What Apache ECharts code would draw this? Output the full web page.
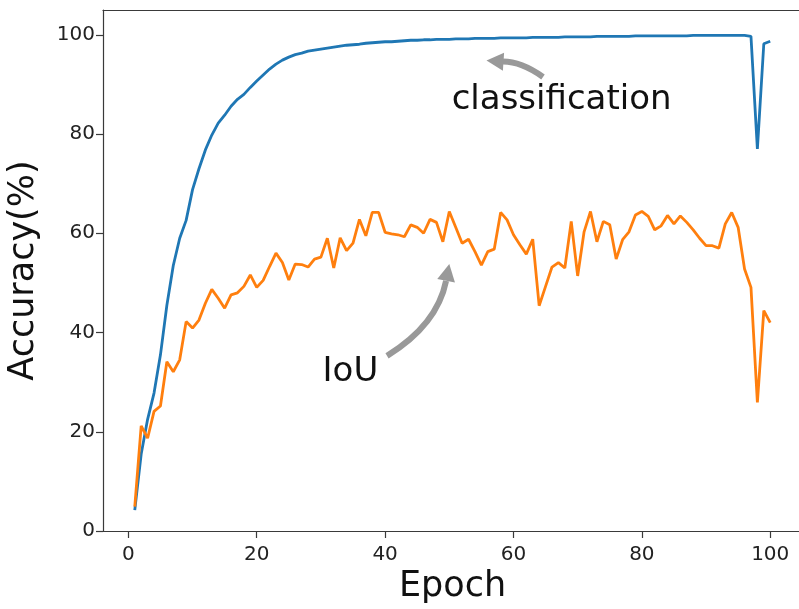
<!DOCTYPE html>
<html lang="en">
<head>
    <meta charset="UTF-8">
    <title>Accuracy vs Epoch</title>
    <script src="https://cdn.jsdelivr.net/npm/echarts@6/dist/echarts.min.js"></script>
    <style>
        html, body {margin: 0; padding: 0; background: #fff;}
    </style>
</head>
<body>
<div id="main" style="width:799px;height:609px;"></div>
<script>
    // epochs 1..100
    var epochs = [1, 2, 3, 4, 5, 6, 7, 8, 9, 10, 11, 12, 13, 14, 15, 16, 17, 18, 19, 20,
        21, 22, 23, 24, 25, 26, 27, 28, 29, 30, 31, 32, 33, 34, 35, 36, 37, 38, 39, 40,
        41, 42, 43, 44, 45, 46, 47, 48, 49, 50, 51, 52, 53, 54, 55, 56, 57, 58, 59, 60,
        61, 62, 63, 64, 65, 66, 67, 68, 69, 70, 71, 72, 73, 74, 75, 76, 77, 78, 79, 80,
        81, 82, 83, 84, 85, 86, 87, 88, 89, 90, 91, 92, 93, 94, 95, 96, 97, 98, 99, 100];

    // classification accuracy (blue)
    var classAcc = [4.2, 15.5, 22.5, 27.8, 35.5, 45.5, 53.5, 59.0, 62.6, 68.8,
        73.0, 76.8, 79.8, 82.2, 83.8, 85.6, 87.0, 88.0, 89.4, 90.7,
        91.9, 93.1, 94.1, 94.9, 95.5, 96.0, 96.3, 96.7, 96.9, 97.1,
        97.3, 97.5, 97.7, 97.9, 98.0, 98.1, 98.3, 98.4, 98.5, 98.6,
        98.6, 98.7, 98.8, 98.9, 98.9, 99.0, 99.0, 99.1, 99.1, 99.1,
        99.2, 99.2, 99.2, 99.3, 99.3, 99.3, 99.3, 99.4, 99.4, 99.4,
        99.4, 99.4, 99.5, 99.5, 99.5, 99.5, 99.5, 99.6, 99.6, 99.6,
        99.6, 99.6, 99.7, 99.7, 99.7, 99.7, 99.7, 99.7, 99.8, 99.8,
        99.8, 99.8, 99.8, 99.8, 99.8, 99.8, 99.8, 99.9, 99.9, 99.9,
        99.9, 99.9, 99.9, 99.9, 99.9, 99.9, 99.7, 77.0, 98.2, 98.7];

    // IoU accuracy (orange)
    var iouAcc = [4.9, 21.2, 18.7, 24.1, 25.2, 34.1, 32.1, 34.5, 42.2, 40.9,
        42.5, 45.9, 48.7, 46.9, 44.9, 47.6, 48.0, 49.3, 51.6, 49.1,
        50.5, 53.3, 56.0, 54.1, 50.6, 53.8, 53.7, 53.2, 54.8, 55.2,
        59.0, 53.0, 59.1, 56.5, 58.0, 62.8, 59.5, 64.2, 64.2, 60.2,
        59.9, 59.7, 59.3, 61.7, 61.2, 60.0, 62.8, 62.2, 58.3, 64.4,
        61.2, 58.0, 58.8, 56.3, 53.6, 56.3, 56.8, 64.2, 62.7, 59.7,
        57.7, 55.8, 58.8, 45.4, 49.3, 53.2, 54.1, 53.0, 62.4, 51.4,
        60.3, 64.4, 58.3, 62.4, 61.7, 54.8, 58.7, 60.3, 63.7, 64.4,
        63.4, 60.7, 61.5, 63.6, 61.9, 63.5, 62.2, 60.7, 59.0, 57.5,
        57.5, 57.0, 61.9, 64.2, 61.2, 52.8, 49.1, 25.9, 44.4, 42.0];

    var xTicks = [0, 20, 40, 60, 80, 100];
    var yTicks = [0, 20, 40, 60, 80, 100];

    var FONT = 'DejaVu Sans';
    var SPINE = {show: true, onZero: false, lineStyle: {color: '#3a3a3a', width: 1.2}};

    function pairs(xs, ys) {
        var out = [];
        for (var i = 0; i < xs.length; i++) out.push([xs[i], ys[i]]);
        return out;
    }

    var myChart = echarts.init(document.getElementById('main'), null, {renderer: 'canvas'});

    myChart.setOption({
        animation: false,
        backgroundColor: '#fff',
        grid: {
            left: 103, top: 10, width: 699, height: 521,
            outerBoundsMode: 'none',
            containLabel: false
        },
        xAxis: [
            {
                type: 'value',
                position: 'bottom',
                min: -3.95,
                max: 104.95,
                name: 'Epoch',
                nameLocation: 'middle',
                nameGap: 38,
                nameTextStyle: {fontFamily: FONT, fontSize: 35, color: '#111'},
                axisLine: SPINE,
                axisTick: {show: true, length: 7, lineStyle: {color: '#3a3a3a', width: 1.2}, customValues: xTicks},
                axisLabel: {fontFamily: FONT, fontSize: 20, color: '#222', margin: 14, customValues: xTicks},
                splitLine: {show: false}
            },
            {
                // top spine only
                type: 'value',
                position: 'top',
                min: -3.95,
                max: 104.95,
                axisLine: SPINE,
                axisTick: {show: false},
                axisLabel: {show: false},
                splitLine: {show: false}
            }
        ],
        yAxis: {
            type: 'value',
            min: 0,
            max: 105,
            name: 'Accuracy(%)',
            nameLocation: 'middle',
            nameGap: 62,
            nameTextStyle: {fontFamily: FONT, fontSize: 35, color: '#111'},
            axisLine: SPINE,
            axisTick: {show: true, length: 7, lineStyle: {color: '#3a3a3a', width: 1.2}, customValues: yTicks},
            axisLabel: {fontFamily: FONT, fontSize: 20, color: '#222', margin: 8, customValues: yTicks},
            splitLine: {show: false}
        },
        series: [
            {
                name: 'classification',
                type: 'line',
                data: pairs(epochs, classAcc),
                showSymbol: false,
                lineStyle: {color: '#1f77b4', width: 2.8},
                itemStyle: {color: '#1f77b4'}
            },
            {
                name: 'IoU',
                type: 'line',
                data: pairs(epochs, iouAcc),
                showSymbol: false,
                lineStyle: {color: '#ff7f0e', width: 2.8},
                itemStyle: {color: '#ff7f0e'}
            }
        ]
    });

    // annotations, in data coordinates
    var notes = [
        {text: 'classification', at: [67.5, 86.8],
            tail: [64.6, 91.5], ctrl: [61.1, 94.7], base: [58.2, 94.6], tip: [55.8, 94.8]},
        {text: 'IoU', at: [34.6, 32.0],
            tail: [40.3, 35.3], ctrl: [48.1, 41.5], base: [49.5, 50.4], tip: [50.0, 53.8]}
    ];

    function toPx(p) {
        return myChart.convertToPixel({xAxisIndex: 0, yAxisIndex: 0}, p);
    }

    var graphics = [];
    notes.forEach(function (n) {
        var t = toPx(n.at), a = toPx(n.tail), c = toPx(n.ctrl), b = toPx(n.base), tip = toPx(n.tip);
        graphics.push({
            type: 'text', x: t[0], y: t[1], z: 10,
            style: {text: n.text, font: '34px "DejaVu Sans"', fill: '#111', align: 'center', verticalAlign: 'middle'}
        });
        graphics.push({
            type: 'bezierCurve', z: 9,
            shape: {x1: a[0], y1: a[1], cpx1: c[0], cpy1: c[1], x2: b[0], y2: b[1]},
            style: {stroke: '#999', lineWidth: 6, fill: null}
        });
        // arrow head
        var dx = tip[0] - b[0], dy = tip[1] - b[1];
        var len = Math.sqrt(dx * dx + dy * dy) || 1;
        var ux = dx / len, uy = dy / len;
        var headLen = 17, halfW = 9;
        var bx = tip[0] - ux * headLen, by = tip[1] - uy * headLen;
        graphics.push({
            type: 'polygon', z: 9,
            shape: {points: [[tip[0], tip[1]], [bx - uy * halfW, by + ux * halfW], [bx + uy * halfW, by - ux * halfW]]},
            style: {fill: '#999'}
        });
    });

    myChart.setOption({graphic: graphics});
</script>
</body>
</html>
